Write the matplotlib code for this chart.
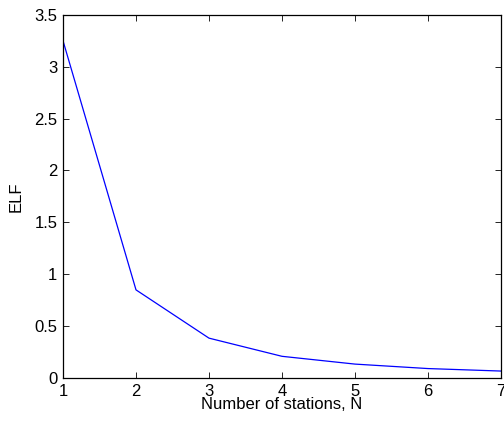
import numpy as np
import matplotlib.pyplot as plt

plt.rcParams['font.family'] = ['Liberation Sans', 'DejaVu Sans']

# data
stations = [1, 2, 3, 4, 5, 6, 7]
elf = [3.25, 0.85, 0.385, 0.21, 0.135, 0.092, 0.068]

fig = plt.figure(figsize=(5.04, 4.22), dpi=100)
ax = fig.add_axes([0.125, 0.104, 0.869, 0.861])
ax.plot(stations, elf, color='blue', lw=0.9)

ax.set_xlim(1, 7)
ax.set_ylim(0, 3.5)
ax.set_xticks(np.arange(1, 8))
ax.set_yticks(np.arange(0, 3.51, 0.5))
ax.set_yticklabels(['0', '0.5', '1', '1.5', '2', '2.5', '3', '3.5'])
ax.tick_params(direction='in', top=True, right=True, labelsize=12, length=4, width=0.6, pad=4)
for s in ax.spines.values():
    s.set_linewidth(0.9)

ax.set_xlabel('Number of stations, N', fontsize=12, labelpad=-1)
ax.set_ylabel('ELF', fontsize=12, labelpad=8)

fig.savefig('out.png', dpi=100)
